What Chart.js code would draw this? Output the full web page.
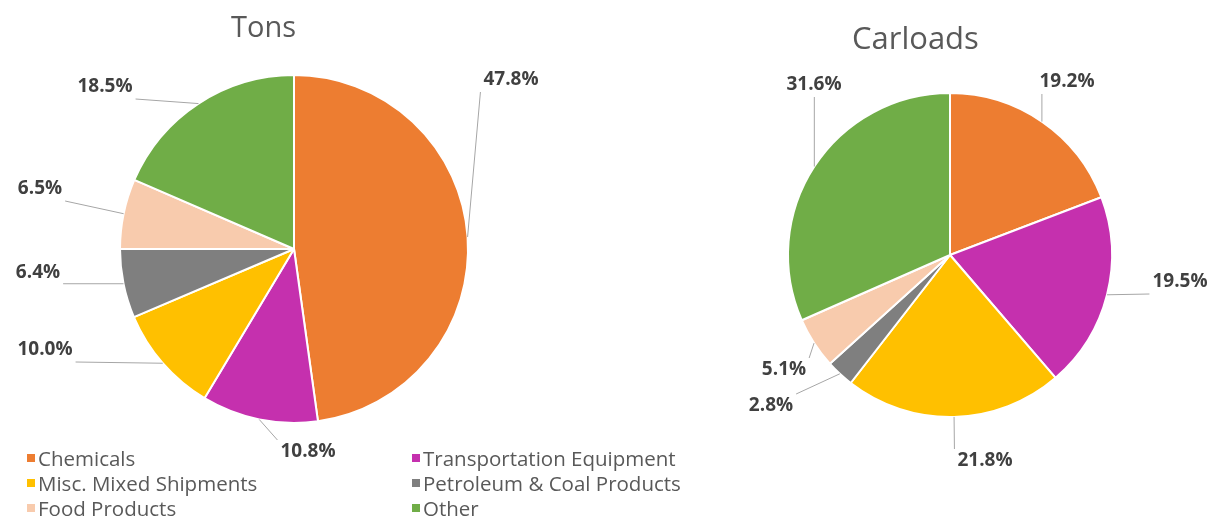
<!DOCTYPE html>
<html>
<head>
<meta charset="utf-8">
<script src="https://cdn.jsdelivr.net/npm/chart.js@4.4.1/dist/chart.umd.min.js"></script>
<style>
    body { margin: 0; background: #fff; font-family: 'Open Sans', sans-serif; }
    #wrap { position: relative; width: 1219px; height: 520px; overflow: hidden; }
    #c1 { position: absolute; left: 0; top: 0; }
    #c2 { position: absolute; left: 600px; top: 0; }
    .title { position: absolute; color: #595959; line-height: 36px; }
    #legend { position: absolute; left: 27px; top: 445px; display: grid; grid-template-columns: 385px 300px; row-gap: 0; font-size: 20.5px; color: #595959; }
    #legend div { display: flex; align-items: center; height: 25px; white-space: nowrap; }
    #legend span { display: inline-block; width: 8px; height: 8px; margin-right: 3px; }
</style>
</head>
<body>
<div id="wrap">
    <canvas id="c1" width="600" height="520"></canvas>
    <canvas id="c2" width="619" height="520"></canvas>
    <div class="title" style="left:231px;top:8px;font-size:29px">Tons</div>
    <div class="title" style="left:852px;top:19px;font-size:31px">Carloads</div>
    <div id="legend"></div>
</div>
<script>
// Data
const categories = ['Chemicals', 'Transportation Equipment', 'Misc. Mixed Shipments', 'Petroleum & Coal Products', 'Food Products', 'Other'];
const tonsShare = [47.8, 10.8, 10.0, 6.4, 6.5, 18.5];
const carloadsShare = [19.2, 19.5, 21.8, 2.8, 5.1, 31.6];
const colors = ['#ED7D31', '#C530AE', '#FFC000', '#7F7F7F', '#F8CBAD', '#70AD47'];

// Label placement (offset from pie centre, px)
const tonsLabelPos = [[217, -169], [14, 203], [-249, 101], [-256, 24], [-254, -60], [-189, -162]];
const carloadsLabelPos = [[117, -173], [230, 27], [35, 206], [-179, 151], [-166, 115], [-136, -170]];

// Legend in two columns
document.getElementById('legend').innerHTML = categories.map((c, i) =>
    '<div><span style="background:' + colors[i] + '"></span>' + c.replace('&', '&amp;') + '</div>'
).join('');

// Percent labels with leader lines
const leaderLabels = {
    id: 'leaderLabels',
    afterDraw(chart, args, opts) {
        const ctx = chart.ctx;
        const meta = chart.getDatasetMeta(0);
        const values = chart.data.datasets[0].data;
        ctx.save();
        ctx.font = 'bold 19px "Open Sans", sans-serif';
        ctx.textAlign = 'center';
        ctx.textBaseline = 'middle';
        meta.data.forEach((arc, i) => {
            const mid = (arc.startAngle + arc.endAngle) / 2;
            const ex = arc.x + Math.cos(mid) * arc.outerRadius;
            const ey = arc.y + Math.sin(mid) * arc.outerRadius;
            const lx = arc.x + opts.pos[i][0];
            const ly = arc.y + opts.pos[i][1];
            const text = values[i].toFixed(1) + '%';
            const w = ctx.measureText(text).width;
            const x0 = lx - w / 2 - 3, x1 = lx + w / 2 + 3;
            const y0 = ly - 12, y1 = ly + 12;
            const ax = Math.min(Math.max(ex, x0), x1);
            const ay = Math.min(Math.max(ey, y0), y1);
            if (Math.hypot(ax - ex, ay - ey) > 12) {
                ctx.strokeStyle = '#A6A6A6';
                ctx.lineWidth = 1;
                ctx.beginPath();
                ctx.moveTo(ex, ey);
                ctx.lineTo(ax, ay);
                ctx.stroke();
            }
            ctx.fillStyle = '#404040';
            ctx.fillText(text, lx, ly);
        });
        ctx.restore();
    }
};

function makePie(id, values, labelPos, padding) {
    new Chart(document.getElementById(id), {
        type: 'pie',
        data: {
            labels: categories,
            datasets: [{
                data: values,
                backgroundColor: colors,
                borderColor: '#ffffff',
                borderWidth: 2
            }]
        },
        options: {
            responsive: false,
            animation: false,
            layout: { padding: padding },
            plugins: {
                legend: { display: false },
                tooltip: { enabled: false },
                leaderLabels: { pos: labelPos }
            }
        },
        plugins: [leaderLabels]
    });
}

makePie('c1', tonsShare, tonsLabelPos, { left: 119, right: 131, top: 74, bottom: 96 });
makePie('c2', carloadsShare, carloadsLabelPos, { left: 187, right: 106, top: 92, bottom: 102 });
</script>
</body>
</html>
